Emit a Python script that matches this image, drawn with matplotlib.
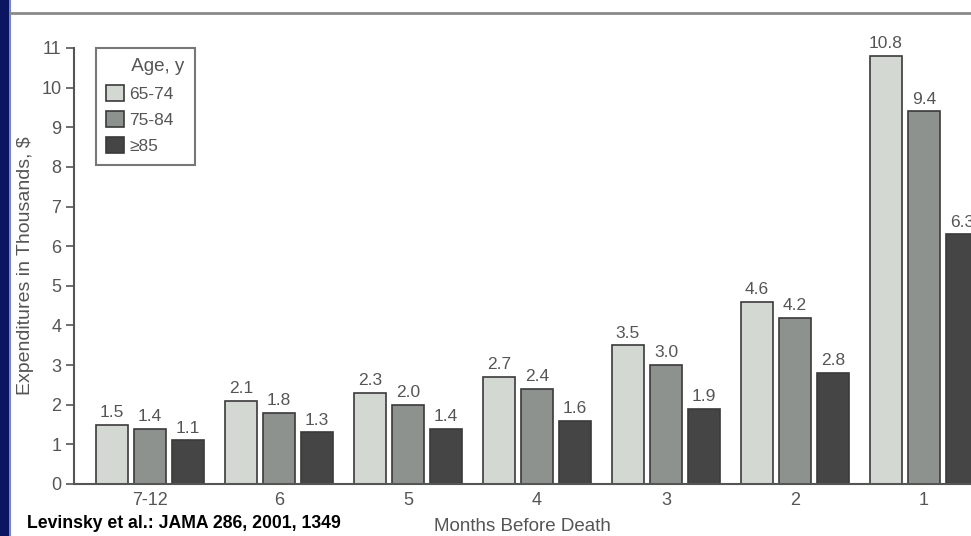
import matplotlib
matplotlib.use("Agg")
import matplotlib.pyplot as plt
import numpy as np
from matplotlib.patches import Rectangle
from matplotlib.lines import Line2D

# Medicare expenditures by month before death and age group
months = ["7-12", "6", "5", "4", "3", "2", "1"]
age_groups = ["65-74", "75-84", "\u226585"]
spend_65_74 = [1.5, 2.1, 2.3, 2.7, 3.5, 4.6, 10.8]
spend_75_84 = [1.4, 1.8, 2.0, 2.4, 3.0, 4.2, 9.4]
spend_85_up = [1.1, 1.3, 1.4, 1.6, 1.9, 2.8, 6.3]

colors = ["#d3d8d3", "#8e928f", "#454545"]
text_gray = "#555555"

plt.rcParams["font.family"] = ["Liberation Sans", "DejaVu Sans"]

W, H = 971, 536
fig = plt.figure(figsize=(W / 100, H / 100), dpi=100)
fig.patch.set_facecolor("white")

# blue side strip and top rule
fig.add_artist(Rectangle((0, 0), 8.5 / W, 1, transform=fig.transFigure,
                         facecolor="#0b1660", edgecolor="none"))
fig.add_artist(Rectangle((8.5 / W, 0), 2.5 / W, 1, transform=fig.transFigure,
                         facecolor="#6f80ff", edgecolor="none"))
fig.add_artist(Line2D([11 / W, 1], [1 - 13 / H, 1 - 13 / H],
                      transform=fig.transFigure, color="#8a8a8a", lw=2))

ax_left = 74 / W
ax_bottom = 52 / H
ax_top = 48 / H
ax = fig.add_axes([ax_left, ax_bottom, 1 - ax_left, 1 - ax_bottom - ax_top])

x = np.arange(len(months))
width = 0.252
step = 0.295
series = [spend_65_74, spend_75_84, spend_85_up]
for i, (vals, col, lab) in enumerate(zip(series, colors, age_groups)):
    pos = x + (i - 1) * step
    ax.bar(pos, vals, width=width, color=col, edgecolor="#3a3a3a",
           linewidth=1.2, label=lab, zorder=2)
    for px, v in zip(pos, vals):
        ax.text(px, v + 0.12, f"{v:.1f}", ha="center", va="bottom",
                fontsize=12.5, color=text_gray)

ax.set_xlim(-0.589, 6.364)
ax.set_ylim(0, 11)
ax.set_yticks(range(0, 12))
ax.set_xticks(x)
ax.set_xticklabels(months)
ax.tick_params(axis="y", length=6, width=1.2, color=text_gray,
               labelsize=13, labelcolor=text_gray, pad=3)
ax.tick_params(axis="x", length=0, labelsize=13, labelcolor=text_gray, pad=6)
for side in ["top", "right"]:
    ax.spines[side].set_visible(False)
for side in ["left", "bottom"]:
    ax.spines[side].set_color(text_gray)
    ax.spines[side].set_linewidth(1.5)

ax.set_xlabel("Months Before Death", fontsize=13.5, color=text_gray,
              labelpad=6)
fig.text(25 / W, 1 - 266 / H, "Expenditures in Thousands, $", rotation=90,
         ha="center", va="center", fontsize=14, color=text_gray)

leg = ax.legend(title="     Age, y", loc="upper left",
                bbox_to_anchor=(96 / W, 1 - 48 / H),
                bbox_transform=fig.transFigure, frameon=True, fancybox=False,
                fontsize=12.5, title_fontsize=13.5, handlelength=1.0,
                handleheight=1.0, handletextpad=0.3, labelspacing=0.55,
                borderpad=0.6, borderaxespad=0, alignment="left")
leg.get_frame().set_edgecolor("#555555")
leg.get_frame().set_linewidth(1.5)
for t in leg.get_texts():
    t.set_color(text_gray)
leg.get_title().set_color(text_gray)

fig.text(27 / W, 1 - 523 / H, "Levinsky et al.: JAMA 286, 2001, 1349",
         ha="left", va="center", fontsize=12.7, fontweight="bold",
         color="black")

fig.savefig("out.png", dpi=100)
